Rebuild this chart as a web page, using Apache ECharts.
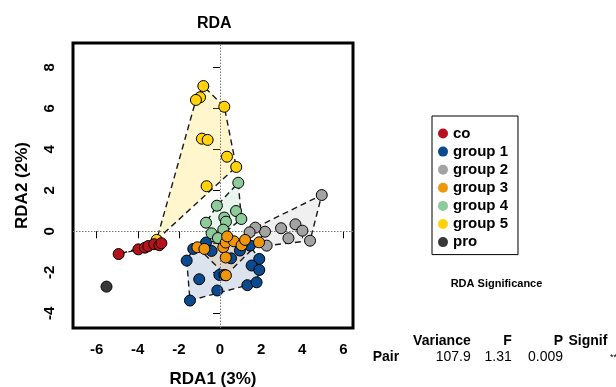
<!DOCTYPE html>
<html>
<head>
<meta charset="utf-8">
<script src="https://cdn.jsdelivr.net/npm/echarts@6/dist/echarts.min.js"></script>
<style>
  html, body { margin: 0; padding: 0; background: #fff; }
  #chart { width: 616px; height: 387px; }
</style>
</head>
<body>
<div id="chart"></div>
<script>
// Groups shown in the legend, in order
const categories = ['co', 'group 1', 'group 2', 'group 3', 'group 4', 'group 5', 'pro'];

// Site scores on RDA1 / RDA2, one array per group
const coPts = [[-4.93, -1.11], [-3.97, -0.88], [-3.65, -0.80], [-3.49, -0.72], [-3.20, -0.63], [-2.95, -0.68], [-2.85, -0.58]];
const group1Pts = [[-0.68, -0.55], [-1.30, -0.86], [-0.41, -0.96], [-1.62, -1.43], [-1.01, -2.34], [-1.46, -3.38],
  [-0.13, -2.89], [-0.03, -2.13], [0.21, -2.13], [0.54, -1.32], [0.97, -0.94], [1.46, -0.70],
  [1.91, -1.35], [1.54, -1.67], [1.91, -1.89], [1.33, -2.63], [1.78, -2.49]];
const group2Pts = [[4.95, 1.77], [3.67, 0.34], [4.01, 0.03], [2.97, 0.15], [2.19, -0.02], [1.72, 0.18],
  [1.44, -0.05], [3.33, -0.34], [4.38, -0.46], [2.27, -0.70]];
const group3Pts = [[-1.10, -0.78], [-0.76, -0.86], [0.16, -0.78], [0.28, -0.55], [0.68, -0.49], [1.05, -0.68],
  [1.22, -0.42], [1.90, -0.54], [0.28, -1.28], [0.29, -2.15], [0.35, -0.25]];
const group4Pts = [[0.89, 2.37], [-0.15, 1.25], [0.78, 0.99], [1.04, 0.60], [0.21, 0.67], [0.29, 0.47],
  [-0.68, 0.42], [0.16, 0.08], [-0.41, -0.10], [-0.10, -0.33]];
const group5Pts = [[-0.81, 7.09], [-0.97, 6.54], [-1.17, 6.41], [0.21, 6.08], [-0.88, 4.52], [-0.60, 4.46],
  [0.34, 3.64], [0.79, 3.14], [-0.65, 2.20], [-3.08, -0.42]];
const proPts = [[-5.52, -2.70]];

const groupPoints = [coPts, group1Pts, group2Pts, group3Pts, group4Pts, group5Pts, proPts];

// Axis ticks
const xTicks = [-6, -4, -2, 0, 2, 4, 6];
const yTicks = [-4, -2, 0, 2, 4, 6, 8];

// Permutation test summary
const tableHeader = ['Variance', 'F', 'P', 'Signif'];
const tableRowName = 'Pair';
const tableRow = ['107.9', '1.31', '0.009', '**'];

// Palette
const colors = ['#B5121B', '#0B4A8F', '#A3A3A3', '#F0960C', '#8DCB9A', '#FFD20A', '#383838'];
const hullFills = ['rgba(181,18,27,0.15)', 'rgba(11,74,143,0.15)', 'rgba(163,163,163,0.16)',
  'rgba(240,150,12,0.15)', 'rgba(141,203,154,0.18)', 'rgba(255,210,10,0.2)', 'rgba(56,56,56,0.15)'];

// Convex hull (monotone chain) in data space
function convexHull(pts) {
  const p = pts.slice().sort((a, b) => a[0] - b[0] || a[1] - b[1]);
  if (p.length < 3) return p;
  const cross = (o, a, b) => (a[0] - o[0]) * (b[1] - o[1]) - (a[1] - o[1]) * (b[0] - o[0]);
  const lower = [];
  for (const q of p) {
    while (lower.length >= 2 && cross(lower[lower.length - 2], lower[lower.length - 1], q) <= 0) lower.pop();
    lower.push(q);
  }
  const upper = [];
  for (let i = p.length - 1; i >= 0; i--) {
    const q = p[i];
    while (upper.length >= 2 && cross(upper[upper.length - 2], upper[upper.length - 1], q) <= 0) upper.pop();
    upper.push(q);
  }
  upper.pop(); lower.pop();
  return lower.concat(upper);
}

const hullSeries = [];
groupPoints.forEach((pts, gi) => {
  if (pts.length < 2) return;
  const hull = convexHull(pts);
  hullSeries.push({
    type: 'custom',
    name: categories[gi] + ' hull',
    silent: true,
    z: 1,
    data: hull,
    renderItem: function (params, api) {
      if (params.dataIndex !== 0) return;
      const coords = hull.map(h => api.coord(h));
      return {
        type: 'polygon',
        shape: { points: coords },
        style: { fill: hullFills[gi], stroke: '#1a1a1a', lineWidth: 1.4, lineDash: [6, 4] }
      };
    }
  });
});

// Point drawing order (later groups sit on top)
const drawOrder = [6, 1, 2, 4, 5, 3, 0];
const pointSeries = drawOrder.map((gi, k) => ({
  type: 'scatter',
  name: categories[gi],
  z: 3 + k,
  symbol: 'circle',
  symbolSize: 11,
  itemStyle: { color: colors[gi], borderColor: '#000', borderWidth: 1, opacity: 1 },
  data: groupPoints[gi],
  animation: false
}));

// Dotted reference lines through the origin
const zeroLines = {
  type: 'scatter',
  name: 'origin',
  data: [],
  z: 2,
  markLine: {
    silent: true,
    symbol: 'none',
    label: { show: false },
    animation: false,
    lineStyle: { color: '#777', type: [1.5, 1.5], width: 1 },
    data: [{ xAxis: 0 }, { yAxis: 0 }]
  }
};

const chart = echarts.init(document.getElementById('chart'), null, { renderer: 'canvas' });

const font = '"Liberation Sans", Arial, Helvetica, sans-serif';

const graphics = [
  { type: 'text', x: 496.5, y: 284, style: { text: 'RDA Significance', font: 'bold 11px ' + font, fill: '#000', textAlign: 'center', textVerticalAlign: 'middle' } }
];
// header row
const colRight = [470.7, 511.7, 563];
tableHeader.forEach((h, i) => {
  if (i < 3) {
    graphics.push({ type: 'text', x: colRight[i], y: 341, style: { text: h, font: 'bold 14px ' + font, fill: '#000', textAlign: 'right', textVerticalAlign: 'middle' } });
  } else {
    graphics.push({ type: 'text', x: 568.5, y: 341, style: { text: h, font: 'bold 14px ' + font, fill: '#000', textAlign: 'left', textVerticalAlign: 'middle' } });
  }
});
graphics.push({ type: 'text', x: 372.7, y: 357.5, style: { text: tableRowName, font: 'bold 14px ' + font, fill: '#000', textAlign: 'left', textVerticalAlign: 'middle' } });
tableRow.forEach((v, i) => {
  if (i < 3) {
    graphics.push({ type: 'text', x: colRight[i], y: 357.5, style: { text: v, font: '14px ' + font, fill: '#000', textAlign: 'right', textVerticalAlign: 'middle' } });
  } else {
    graphics.push({ type: 'text', x: 610, y: 357.5, style: { text: v, font: '9px ' + font, fill: '#000', textAlign: 'left', textVerticalAlign: 'middle' } });
  }
});

chart.setOption({
  animation: false,
  backgroundColor: '#fff',
  textStyle: { fontFamily: font },
  title: {
    text: 'RDA',
    left: 192,
    top: 11,
    textStyle: { fontSize: 16, fontWeight: 'bold', color: '#000', fontFamily: font }
  },
  legend: {
    orient: 'vertical',
    left: 432,
    top: 116,
    data: categories.map((c, i) => ({ name: c, icon: 'circle', itemStyle: { color: colors[i], borderWidth: 0 } })),
    itemWidth: 10,
    itemHeight: 10,
    itemGap: 3.1,
    itemTextGap: 7,
    padding: [10, 10, 5, 6],
    borderColor: '#000',
    borderWidth: 1,
    borderRadius: 0,
    selectedMode: false,
    textStyle: { fontSize: 15, fontWeight: 'bold', color: '#000', fontFamily: font, lineHeight: 15 }
  },
  grid: {
    left: 73, right: 263, top: 43, bottom: 59,
    outerBoundsMode: 'none',
    containLabel: false,
    show: true,
    borderColor: '#000',
    borderWidth: 3,
    backgroundColor: 'transparent'
  },
  xAxis: {
    type: 'value',
    min: -7.15, max: 6.47,
    axisLine: { show: false },
    splitLine: { show: false },
    axisTick: { show: true, customValues: xTicks, length: 7, lineStyle: { color: '#000', width: 1 } },
    axisLabel: { customValues: xTicks, fontSize: 15, fontWeight: 'bold', color: '#000', margin: 14, fontFamily: font },
    name: 'RDA1 (3%)',
    nameLocation: 'middle',
    nameGap: 43,
    nameTextStyle: { fontSize: 17, fontWeight: 'bold', color: '#000', fontFamily: font }
  },
  yAxis: {
    type: 'value',
    min: -4.72, max: 9.19,
    axisLine: { show: false },
    splitLine: { show: false },
    axisTick: { show: true, customValues: yTicks, length: 7, lineStyle: { color: '#000', width: 1 } },
    axisLabel: { customValues: yTicks, rotate: 90, fontSize: 15, fontWeight: 'bold', color: '#000', margin: 16, fontFamily: font },
    name: 'RDA2 (2%)',
    nameLocation: 'middle',
    nameRotate: 90,
    nameGap: 42,
    nameTextStyle: { fontSize: 17, fontWeight: 'bold', color: '#000', fontFamily: font }
  },
  graphic: graphics,
  series: hullSeries.concat([zeroLines]).concat(pointSeries)
});
</script>
</body>
</html>
